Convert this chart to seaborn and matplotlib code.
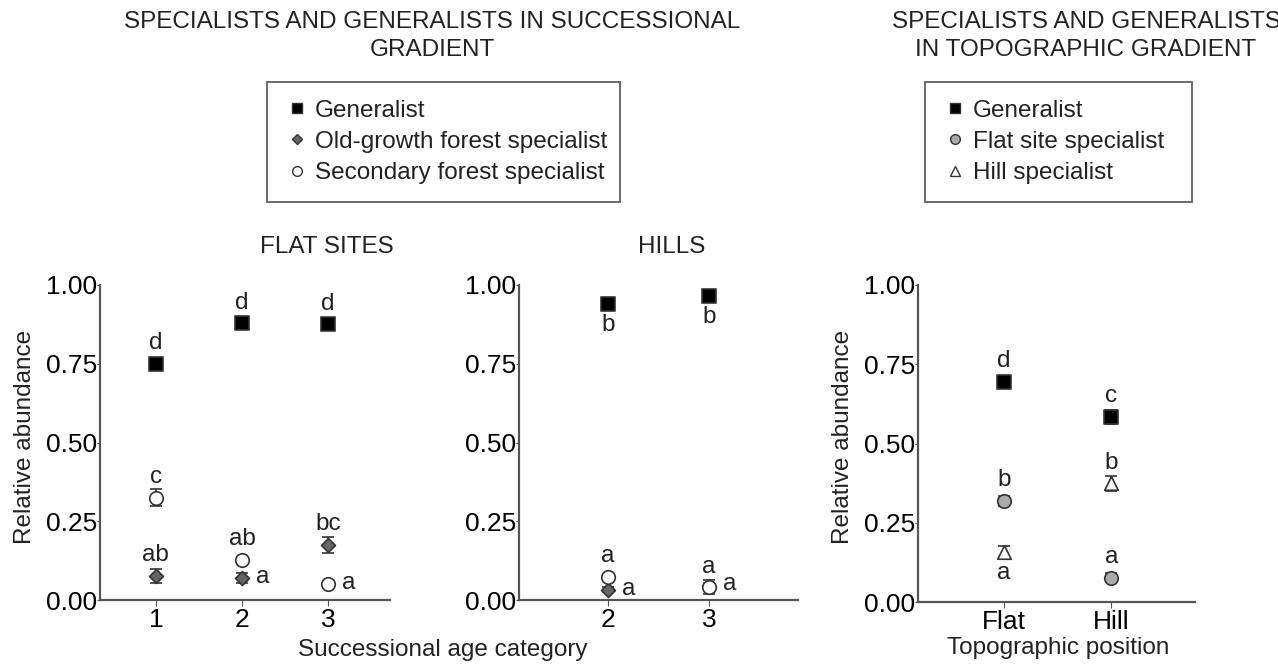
import numpy as np
import pandas as pd
import matplotlib
matplotlib.use("Agg")
import matplotlib.pyplot as plt
import seaborn as sns
from matplotlib.lines import Line2D

# ---- successional gradient: flat sites ----
flat_ages = [1, 2, 3]
flat_generalist = [0.749, 0.878, 0.875]
flat_generalist_se = [0.020, 0.008, 0.008]
flat_generalist_letters = ["d", "d", "d"]
flat_oldgrowth = [0.076, 0.070, 0.175]
flat_oldgrowth_se = [0.022, 0.016, 0.026]
flat_oldgrowth_letters = ["ab", "a", "bc"]
flat_secondary = [0.325, 0.127, 0.051]
flat_secondary_se = [0.028, 0.008, 0.008]
flat_secondary_letters = ["c", "ab", "a"]

# ---- successional gradient: hills ----
hills_ages = [2, 3]
hills_generalist = [0.940, 0.965]
hills_generalist_se = [0.008, 0.008]
hills_generalist_letters = ["b", "b"]
hills_oldgrowth = [0.032, 0.045]
hills_oldgrowth_se = [0.008, 0.010]
hills_oldgrowth_letters = ["a", "a"]
hills_secondary = [0.072, 0.040]
hills_secondary_se = [0.008, 0.022]
hills_secondary_letters = ["a", "a"]

# ---- topographic gradient ----
topo_positions = ["Flat", "Hill"]
topo_generalist = [0.693, 0.583]
topo_generalist_se = [0.010, 0.022]
topo_generalist_letters = ["d", "c"]
topo_flatspec = [0.318, 0.077]
topo_flatspec_se = [0.015, 0.015]
topo_flatspec_letters = ["b", "a"]
topo_hillspec = [0.158, 0.374]
topo_hillspec_se = [0.018, 0.025]
topo_hillspec_letters = ["a", "b"]

sns.set_style("ticks")
plt.rcParams["font.family"] = ["Liberation Sans", "DejaVu Sans"]
TXT = "#222222"
AX = "#555555"
FS = 17.5
TICK_FS = 19

W, H = 1278, 667
fig = plt.figure(figsize=(W / 100, H / 100), dpi=100)


def fx(px):
    return px / W


def fy(py):
    return 1 - py / H


# letter placement (offset in points)
OFF = {"above": (0, 15, "center", "center"),
       "below": (0, -15, "center", "center"),
       "right": (15, 1, "center", "center")}

STYLE = {
    "gen": dict(marker="s", color="black", s=90),
    "old": dict(marker="D", color="#666666", s=50),
    "sec": dict(marker="o", color="white", s=95),
    "flat": dict(marker="o", color="#aaaaaa", s=95),
    "hill": dict(marker="^", color="white", s=95),
}


def draw(ax, x, y, se, key, letters, where):
    df = pd.DataFrame({"x": x, "y": y})
    ax.errorbar(x, y, yerr=se, fmt="none", ecolor="#333333", elinewidth=1.2,
                capsize=4, capthick=1.2, zorder=2)
    st = STYLE[key]
    sns.scatterplot(data=df, x="x", y="y", marker=st["marker"], color=st["color"],
                    s=st["s"], edgecolor="#333333", linewidth=1.2, ax=ax,
                    zorder=3, legend=False)
    for xi, yi, lab, w in zip(x, y, letters, where):
        dx, dy, ha, va = OFF[w]
        ax.annotate(lab, (xi, yi), xytext=(dx, dy), textcoords="offset points",
                    ha=ha, va=va, fontsize=FS, color=TXT)


def style_axes(ax, xlim):
    ax.set_ylim(0, 1.0)
    ax.set_xlim(*xlim)
    ax.set_yticks([0, 0.25, 0.5, 0.75, 1.0])
    ax.set_yticklabels(["0.00", "0.25", "0.50", "0.75", "1.00"])
    sns.despine(ax=ax)
    for sp in ["left", "bottom"]:
        ax.spines[sp].set_color(AX)
        ax.spines[sp].set_linewidth(1.6)
    ax.tick_params(axis="y", length=2, pad=0, labelsize=TICK_FS, colors=AX, labelcolor="black")
    ax.tick_params(axis="x", length=4, pad=2, labelsize=TICK_FS, colors=AX, labelcolor="black")
    ax.set_xlabel("")
    ax.set_ylabel("")


bottom, height = fy(600), (600 - 285) / H

# panel 1: flat sites
ax1 = fig.add_axes([fx(100), bottom, fx(290), height])
draw(ax1, flat_ages, flat_generalist, flat_generalist_se, "gen",
     flat_generalist_letters, ["above", "above", "above"])
draw(ax1, flat_ages, flat_oldgrowth, flat_oldgrowth_se, "old",
     flat_oldgrowth_letters, ["above", "right", "above"])
draw(ax1, flat_ages, flat_secondary, flat_secondary_se, "sec",
     flat_secondary_letters, ["above", "above", "right"])
style_axes(ax1, (0.35, 3.72))
ax1.set_xticks(flat_ages)

# panel 2: hills
ax2 = fig.add_axes([fx(519), bottom, fx(279), height])
draw(ax2, hills_ages, hills_generalist, hills_generalist_se, "gen",
     hills_generalist_letters, ["below", "below"])
draw(ax2, hills_ages, hills_oldgrowth, hills_oldgrowth_se, "old",
     hills_oldgrowth_letters, ["right", "right"])
draw(ax2, hills_ages, hills_secondary, hills_secondary_se, "sec",
     hills_secondary_letters, ["above", "above"])
style_axes(ax2, (1.12, 3.88))
ax2.set_xticks(hills_ages)

# panel 3: topography
topo_x = np.arange(len(topo_positions))
ax3 = fig.add_axes([fx(918), fy(602), fx(277), (602 - 285) / H])
draw(ax3, topo_x, topo_generalist, topo_generalist_se, "gen",
     topo_generalist_letters, ["above", "above"])
draw(ax3, topo_x, topo_flatspec, topo_flatspec_se, "flat",
     topo_flatspec_letters, ["above", "above"])
draw(ax3, topo_x, topo_hillspec, topo_hillspec_se, "hill",
     topo_hillspec_letters, ["below", "above"])
style_axes(ax3, (-0.8, 1.78))
ax3.set_xticks(topo_x)
ax3.set_xticklabels(topo_positions)

# titles and labels
fig.text(fx(432), fy(36), "SPECIALISTS AND GENERALISTS IN SUCCESSIONAL\nGRADIENT",
         ha="center", va="center", fontsize=FS, color=TXT, linespacing=1.4)
fig.text(fx(1086), fy(36), "SPECIALISTS AND GENERALISTS\nIN TOPOGRAPHIC GRADIENT",
         ha="center", va="center", fontsize=FS, color=TXT, linespacing=1.4)
fig.text(fx(327), fy(247), "FLAT SITES", ha="center", va="center", fontsize=FS, color=TXT)
fig.text(fx(672), fy(247), "HILLS", ha="center", va="center", fontsize=FS, color=TXT)
fig.text(fx(443), fy(650), "Successional age category", ha="center", va="center",
         fontsize=FS, color=TXT)
fig.text(fx(1058), fy(648), "Topographic position", ha="center", va="center",
         fontsize=FS, color=TXT)
fig.text(fx(25), fy(437), "Relative abundance", rotation=90, ha="center", va="center",
         fontsize=FS, color=TXT)
fig.text(fx(843), fy(437), "Relative abundance", rotation=90, ha="center", va="center",
         fontsize=FS, color=TXT)


def handle(key, ms):
    st = STYLE[key]
    return Line2D([], [], linestyle="none", marker=st["marker"], markersize=ms,
                  markerfacecolor=st["color"], markeredgecolor="#333333",
                  markeredgewidth=1.0)


leg_kw = dict(loc="upper left", mode="expand", frameon=True, fancybox=False,
              edgecolor="#444444", fontsize=FS, handlelength=1.0,
              handletextpad=0.25, labelspacing=0.38, borderpad=0.72,
              borderaxespad=0)
leg1 = fig.legend([handle("gen", 7), handle("old", 5.5), handle("sec", 7)],
                  ["Generalist", "Old-growth forest specialist", "Secondary forest specialist"],
                  bbox_to_anchor=(fx(267), fy(204), fx(353), (204 - 82) / H), **leg_kw)
leg2 = fig.legend([handle("gen", 7), handle("flat", 7), handle("hill", 7)],
                  ["Generalist", "Flat site specialist", "Hill specialist"],
                  bbox_to_anchor=(fx(925), fy(204), fx(267), (204 - 82) / H), **leg_kw)
for lg in (leg1, leg2):
    lg.get_frame().set_linewidth(1.4)
    for t in lg.get_texts():
        t.set_color(TXT)

fig.savefig("out.png", dpi=100)
